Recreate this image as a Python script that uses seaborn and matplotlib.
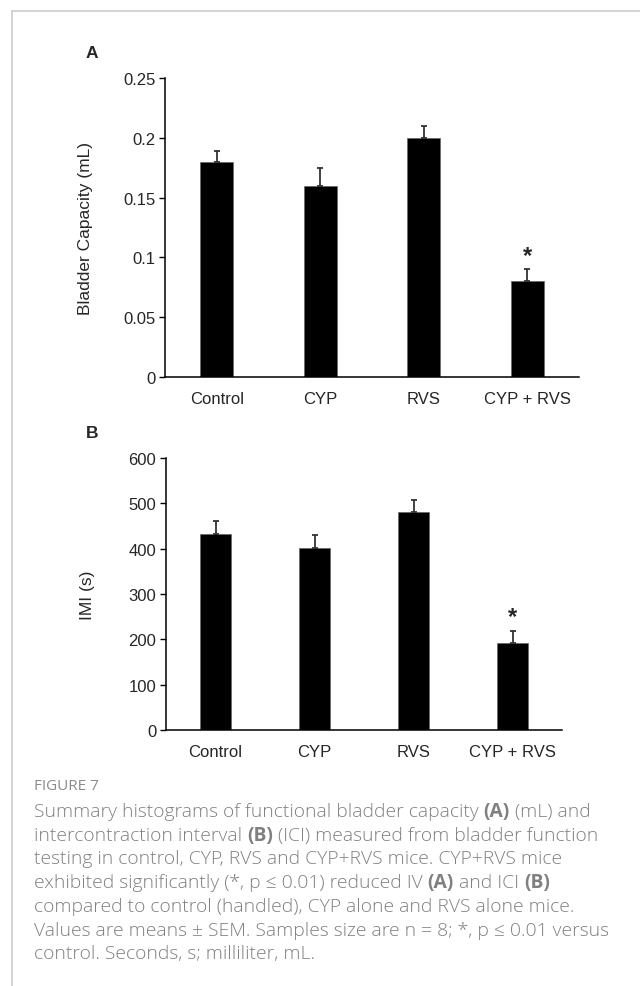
import matplotlib
matplotlib.use("Agg")
import matplotlib.pyplot as plt
import numpy as np
import pandas as pd
import seaborn as sns
from matplotlib.lines import Line2D

# Dados
grupos = ["Control", "CYP", "RVS", "CYP + RVS"]
capacidade = [0.18, 0.16, 0.20, 0.08]
capacidade_sem = [0.009, 0.015, 0.010, 0.010]
imi = [432, 401, 480, 191]
imi_sem = [28, 29, 27, 28]
significativo = [False, False, False, True]

yticks_a = [0, 0.05, 0.1, 0.15, 0.2, 0.25]
yticks_b = [0, 100, 200, 300, 400, 500, 600]

legenda = [
    [("Summary histograms of functional bladder capacity", False), ("(A)", True), ("(mL) and", False)],
    [("intercontraction interval", False), ("(B)", True), ("(ICI) measured from bladder function", False)],
    [("testing in control, CYP, RVS and CYP+RVS mice. CYP+RVS mice", False)],
    [("exhibited significantly (*, p \u2264 0.01) reduced IV", False), ("(A)", True), ("and ICI", False), ("(B)", True)],
    [("compared to control (handled), CYP alone and RVS alone mice.", False)],
    [("Values are means \u00b1 SEM. Samples size are n = 8; *, p \u2264 0.01 versus", False)],
    [("control. Seconds, s; milliliter, mL.", False)],
]

sns.set_style("white")
plt.rcParams["font.family"] = ["Liberation Sans", "DejaVu Sans"]

W, H = 640, 987
fig = plt.figure(figsize=(W / 100, H / 100), dpi=100)


def painel(rect, valores, erros, yticks, ylabel, label_x):
    ax = fig.add_axes(rect)
    df = pd.DataFrame({"grupo": grupos, "valor": valores})
    sns.barplot(data=df, x="grupo", y="valor", color="black", width=0.32,
                errorbar=None, edgecolor="#666666", linewidth=0.5, ax=ax)
    for patch in ax.patches:
        patch.set_facecolor("black")
    x = np.arange(len(grupos))
    ax.errorbar(x, valores, yerr=[np.zeros(len(erros)), erros], fmt="none",
                ecolor="#333333", elinewidth=1.3, capsize=2.2, capthick=1.3)
    for xi, v, e, sig in zip(x, valores, erros, significativo):
        if sig:
            ax.annotate("*", xy=(xi, v + e), xytext=(0, 2), textcoords="offset points",
                        ha="center", va="bottom", fontsize=17, fontweight="bold")
    ax.set_xlim(-0.5, len(grupos) - 0.5)
    ax.set_ylim(yticks[0], yticks[-1])
    ax.set_yticks(yticks)
    ax.set_yticklabels([f"{t:g}" for t in yticks], fontsize=12)
    ax.tick_params(axis="y", direction="out", length=4, width=1, color="black", pad=3, left=True)
    ax.tick_params(axis="x", length=0, pad=10, labelsize=12)
    ax.set_xlabel("")
    ax.set_ylabel(ylabel, fontsize=12.5)
    ax.yaxis.set_label_coords(label_x, 0.5)
    for lado in ["top", "right"]:
        ax.spines[lado].set_visible(False)
    for lado in ["left", "bottom"]:
        ax.spines[lado].set_color("black")
        ax.spines[lado].set_linewidth(1.1)
    return ax


painel([165 / W, 1 - 378 / H, 414 / W, 299 / H], capacidade, capacidade_sem,
       yticks_a, "Bladder Capacity (mL)", -0.174)
painel([166 / W, 1 - 731 / H, 396 / W, 272 / H], imi, imi_sem,
       yticks_b, "IMI (s)", -0.179)

fig.text(92 / W, 1 - 54 / H, "A", fontsize=12.5, fontweight="bold", ha="center", va="center")
fig.text(92 / W, 1 - 433 / H, "B", fontsize=12.5, fontweight="bold", ha="center", va="center")

# Moldura cinza (topo e esquerda)
fig.add_artist(Line2D([11.5 / W, 1], [1 - 11.5 / H] * 2, color="#cccccc", lw=1.2))
fig.add_artist(Line2D([11.5 / W] * 2, [0, 1 - 11.5 / H], color="#cccccc", lw=1.2))

# Legenda da figura
cinza = "#808080"
fonte_leg = ["Open Sans", "DejaVu Sans"]
tam_leg = 13.9
fig.text(34 / W, 1 - 787 / H, "FIGURE 7", fontsize=11, color="#8a8a8a",
         family=fonte_leg, va="center", ha="left")

renderer = fig.canvas.get_renderer()
t1 = fig.text(0, 0, "xx", fontsize=tam_leg, family=fonte_leg, fontweight="light")
t2 = fig.text(0, 0, "x x", fontsize=tam_leg, family=fonte_leg, fontweight="light")
espaco = t2.get_window_extent(renderer).width - t1.get_window_extent(renderer).width
t1.remove()
t2.remove()

y0, passo = 812, 23.7
for i, linha in enumerate(legenda):
    xpx = 34
    ypx = y0 + i * passo
    for j, (texto, negrito) in enumerate(linha):
        if j > 0:
            xpx += espaco
        t = fig.text(xpx / W, 1 - ypx / H, texto, fontsize=tam_leg, family=fonte_leg,
                     color=cinza, fontweight="bold" if negrito else "light",
                     va="center", ha="left")
        xpx += t.get_window_extent(renderer).width

fig.savefig("out.png", dpi=100)
